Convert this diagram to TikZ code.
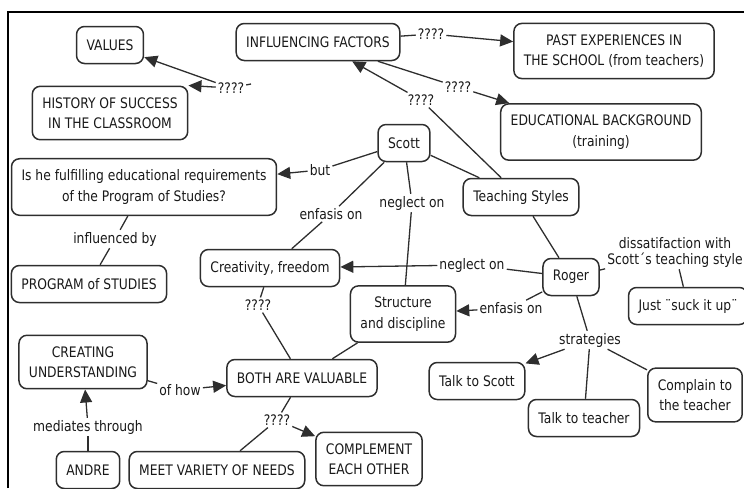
\documentclass[tikz,border=0pt]{standalone}
\usepackage{fontspec}
\setmainfont[FakeStretch=0.85]{DejaVu Sans}
\usetikzlibrary{arrows.meta}
\definecolor{edge}{HTML}{2E2E2E}
\tikzset{
  concept/.style={draw=edge,line width=1.5pt,rounded corners=8pt,align=center,
    inner xsep=10pt,inner ysep=11pt,minimum height=37pt,text=black!90},
  phrase/.style={inner sep=2pt,align=center,text=black!90},
  link/.style={draw=edge,line width=1.3pt}
}
\begin{document}
\begin{tikzpicture}[x=1pt,y=-1pt,font=\fontsize{14.5}{20.5}\selectfont,
  >={Triangle[length=13pt,width=12pt]}]
\useasboundingbox (0,0) rectangle (744,488);
\draw[line width=2pt] (8,488)--(8,12)--(744,12);
% concepts
\node[concept] (values) at (110,45) {VALUES};
\node[concept] (infl) at (318,42) {INFLUENCING FACTORS};
\node[concept] (past) at (614,51) {PAST EXPERIENCES IN\\THE SCHOOL (from teachers)};
\node[concept] (hist) at (110,113) {HISTORY OF SUCCESS\\IN THE CLASSROOM};
\node[concept] (edu) at (601,132) {EDUCATIONAL BACKGROUND\\(training)};
\node[concept] (scott) at (404,143) {Scott};
\node[concept] (fulfil) at (144,187) {Is he fulfilling educational requirements\\of the Program of Studies?};
\node[concept] (teach) at (521,197) {Teaching Styles};
\node[concept] (creat) at (270,268) {Creativity, freedom};
\node[concept] (prog) at (89,284) {PROGRAM of STUDIES};
\node[concept] (roger) at (571,277) {Roger};
\node[concept] (struct) at (403,314) {Structure\\and discipline};
\node[concept] (suck) at (688,306) {Just ¨suck it up¨};
\node[concept] (cu) at (83,362) {CREATING\\UNDERSTANDING};
\node[concept] (both) at (302,378) {BOTH ARE VALUABLE};
\node[concept] (tscott) at (477,381) {Talk to Scott};
\node[concept] (tteach) at (584,418) {Talk to teacher};
\node[concept] (compl) at (695,395) {Complain to\\the teacher};
\node[concept] (andre) at (88,470) {ANDRE};
\node[concept] (meet) at (217,470) {MEET VARIETY OF NEEDS};
\node[concept] (compx) at (369,459) {COMPLEMENT\\EACH OTHER};
% linking phrases
\node[phrase] (q1) at (231,88) {????};
\node[phrase] (q2) at (431,34) {????};
\node[phrase] (q3) at (458,87) {????};
\node[phrase] (q4) at (421,100) {????};
\node[phrase] (but) at (320,170) {but};
\node[phrase] (enf1) at (331,214) {enfasis on};
\node[phrase] (negl1) at (412,203) {neglect on};
\node[phrase] (infby) at (115,239) {influenced by};
\node[phrase] (negl2) at (472,265) {neglect on};
\node[phrase] (enf2) at (511,308) {enfasis on};
\node[phrase,font=\fontsize{14.5}{16}\selectfont] (diss) at (675,252) {dissatifaction with\\Scott´s teaching style};
\node[phrase] (q5) at (258,305) {????};
\node[phrase] (strat) at (590,340) {strategies};
\node[phrase] (ofhow) at (180,390) {of how};
\node[phrase] (q6) at (277,420) {????};
\node[phrase] (med) at (88,427) {mediates through};
\coordinate (t1) at (251,84);
% links
\draw[link] (infl) -- (q2);
\draw[link,->] (q2) -- (past);
\draw[link] (infl) -- (q3);
\draw[link,->] (q3) -- (edu);
\draw[link] (teach) -- (q4);
\draw[link,->] (q4) -- (infl);
\draw[link] (q1) -- (t1);
\draw[link,->] (q1) -- (values);
\draw[link,->] (q1) -- (hist.north east);
\draw[link] (scott) -- (but);
\draw[link,->] (but) -- (fulfil);
\draw[link] (scott) -- (enf1);
\draw[link] (enf1) -- (creat);
\draw[link] (scott) -- (negl1);
\draw[link] (negl1) -- (struct);
\draw[link] (scott) -- (teach);
\draw[link] (teach) -- (roger);
\draw[link] (roger) -- (negl2);
\draw[link,->] (negl2) -- (creat);
\draw[link] (roger) -- (enf2);
\draw[link,->] (enf2) -- (struct);
\draw[link] (roger) -- (diss);
\draw[link] (diss) -- (suck);
\draw[link] (roger) -- (strat);
\draw[link,->] (strat) -- (tscott);
\draw[link] (strat) -- (tteach);
\draw[link] (strat) -- (compl);
\draw[link] (fulfil) -- (infby);
\draw[link] (infby) -- (prog);
\draw[link] (creat) -- (q5);
\draw[link] (q5) -- (both);
\draw[link] (struct) -- (both);
\draw[link] (cu) -- (ofhow);
\draw[link,->] (ofhow) -- (both);
\draw[link] (andre) -- (med);
\draw[link,->] (med) -- (cu);
\draw[link] (both) -- (q6);
\draw[link] (q6) -- (meet);
\draw[link,->] (q6) -- (compx);
\end{tikzpicture}
\end{document}
